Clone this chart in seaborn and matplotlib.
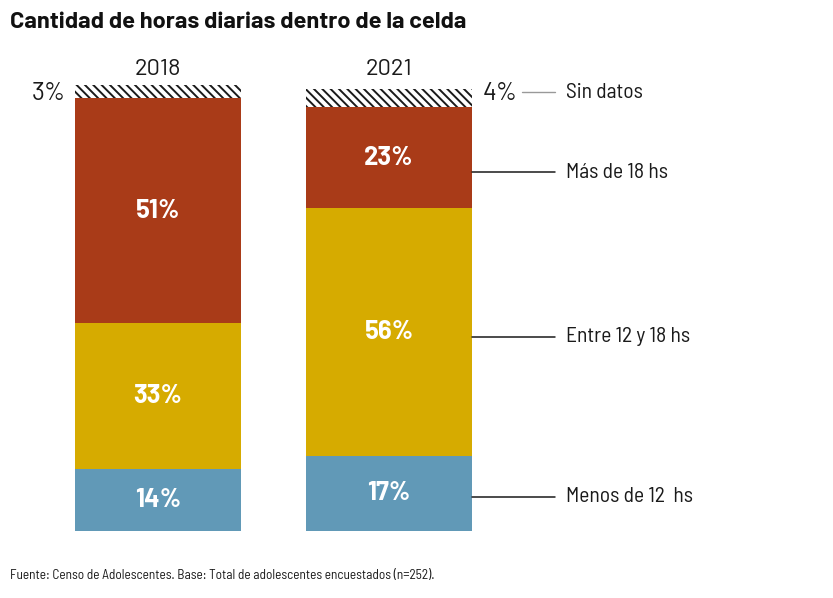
import numpy as np
import matplotlib
matplotlib.use('Agg')
import matplotlib.pyplot as plt
import seaborn as sns

years = ['2018', '2021']
menos_12 = [14, 17]
entre_12_18 = [33, 56]
mas_18 = [51, 23]
sin_datos = [3, 4]
series_names = ['Menos de 12  hs', 'Entre 12 y 18 hs', 'Más de 18 hs', 'Sin datos']

colors = {'Menos de 12  hs': '#6199b7', 'Entre 12 y 18 hs': '#d6ab00', 'Más de 18 hs': '#a93b18'}

sns.set_style('white')
plt.rcParams['font.family'] = ['Barlow Semi Condensed', 'DejaVu Sans']
plt.rcParams['hatch.linewidth'] = 1.4
wide = ['Barlow', 'DejaVu Sans']

fig = plt.figure(figsize=(8.33, 5.98), dpi=100)
ax = fig.add_axes([0, 0, 1, 1])

# stacked bars via cumulative totals, drawn back to front
layers = np.array([menos_12, entre_12_18, mas_18, sin_datos])
cum = layers.cumsum(axis=0)

sns.barplot(x=years, y=cum[3], color='white', edgecolor='#1a1a1a', linewidth=0,
            hatch=r'\\\\', width=0.72, ax=ax, saturation=1)
sns.barplot(x=years, y=cum[2], color=colors['Más de 18 hs'], linewidth=0, width=0.72, ax=ax, saturation=1)
sns.barplot(x=years, y=cum[1], color=colors['Entre 12 y 18 hs'], linewidth=0, width=0.72, ax=ax, saturation=1)
sns.barplot(x=years, y=cum[0], color=colors['Menos de 12  hs'], linewidth=0, width=0.72, ax=ax, saturation=1)

px = 4.42
ax.set_xlim(-158 / 231, (833 - 158) / 231)
ax.set_ylim(-(598 - 531) / px, 531 / px)
ax.axis('off')

# percentage labels inside segments
for i in range(2):
    bottoms = np.concatenate([[0], cum[:3, i]])
    for j in range(3):
        mid = bottoms[j] + layers[j, i] / 2
        ax.text(i, mid, f'{layers[j, i]}%', color='white', fontsize=18.5, fontweight='bold',
                ha='center', va='center', family=wide)
    ax.text(i, 104.3, years[i], fontsize=17, ha='center', va='center', color='#1a1a1a', family=wide)

ax.text(-0.472, 99.0, '3%', fontsize=18, ha='center', va='center', color='#1a1a1a', family=wide)
ax.text(1.48, 99.0, '4%', fontsize=18, ha='center', va='center', color='#1a1a1a', family=wide)

# right-hand legend labels
xr = 1.36
x_line_end = (555 - 158) / 231
x_text = (566 - 158) / 231
ax.plot([(522 - 158) / 231, x_line_end], [99.3, 99.3], color='#999999', lw=1)
ax.text(x_text, 99.3, series_names[3], fontsize=15.5, va='center', color='#1a1a1a')
for name, y in zip(series_names[2::-1], [81.2, 43.9, 7.7]):
    ax.plot([xr, x_line_end], [y, y], color='#1a1a1a', lw=1.1)
    ax.text(x_text, y, name, fontsize=15.5, va='center', color='#1a1a1a')

fig.text(10 / 833, 1 - 22 / 598, 'Cantidad de horas diarias dentro de la celda',
         fontsize=17, fontweight='bold', va='center', ha='left', color='#111111', family=wide)
fig.text(10 / 833, 1 - 576 / 598,
         'Fuente: Censo de Adolescentes. Base: Total de adolescentes encuestados (n=252).',
         fontsize=9.6, va='center', ha='left', color='#1a1a1a')

fig.savefig('out.png', dpi=100)
